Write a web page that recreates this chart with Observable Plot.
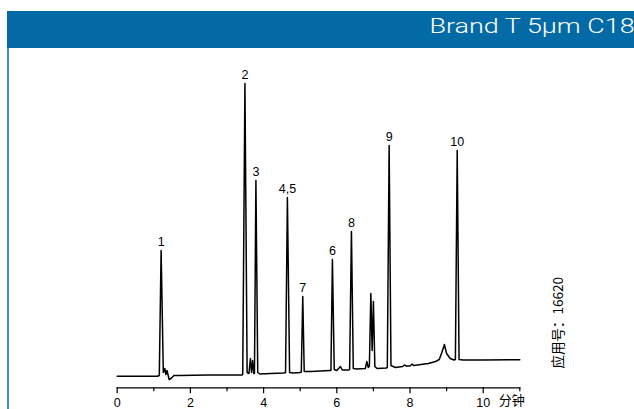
<!DOCTYPE html>
<html>
<head>
<meta charset="utf-8">
<script src="https://cdn.jsdelivr.net/npm/d3@7"></script>
<script src="https://cdn.jsdelivr.net/npm/@observablehq/plot@0.6"></script>
<style>
  html, body { margin: 0; padding: 0; background: #fff; width: 634px; height: 409px; overflow: hidden; }
  #wrap { position: relative; width: 634px; height: 409px; }
  #header { position: absolute; left: 7px; top: 11px; width: 627px; height: 37px; background: #046aa5; overflow: hidden; }
  #header span { position: absolute; right: -1px; top: 4px; color: #fff; font-family: Roboto, "Liberation Sans", Arial, sans-serif; font-weight: 300; font-size: 19.5px; white-space: nowrap; transform: scaleX(1.38); transform-origin: right center; }
  #leftline { position: absolute; left: 7px; top: 48px; width: 2px; height: 361px; background: #3d8fc8; }
  #chart { position: absolute; left: 0; top: 0; }
</style>
</head>
<body>
<div id="wrap">
  <div id="header"><span id="title"></span></div>
  <div id="leftline"></div>
  <div id="chart"></div>
</div>
<script>
const titleText = "Brand T 5µm C18";
const xLabel = "分钟";
const appNote = "应用号：16620";

// chromatogram trace: retention time (min) and detector response (arbitrary units)
const times = [
  0, 1.10, 1.15, 1.20, 1.26, 1.30, 1.33, 1.36, 1.42, 1.47, 1.55, 1.70, 2.50, 3.00, 3.40,
  3.43, 3.49, 3.55, 3.60, 3.64, 3.67, 3.70, 3.73,
  3.75, 3.79, 3.84, 3.90, 4.20, 4.55,
  4.60, 4.65, 4.71, 4.80, 5.00,
  5.03, 5.07, 5.11, 5.30, 5.80,
  5.84, 5.88, 5.93, 6.00, 6.10, 6.15, 6.33,
  6.35, 6.40, 6.45, 6.55, 6.78, 6.82, 6.86,
  6.89, 6.93, 6.965, 7.00, 7.04, 7.10, 7.35,
  7.38, 7.43, 7.48, 7.60, 7.80, 7.85, 7.90, 8.00, 8.06, 8.10, 8.30, 8.50, 8.70, 8.80, 8.87, 8.94, 9.00, 9.10, 9.20,
  9.24, 9.29, 9.34, 9.45, 10.0, 11.0
];
const response = [
  4.3, 4.3, 5, 130, 8, 12, 6, 10, 1, 2, 5, 5, 5.5, 5.5, 5.5,
  6, 297, 8, 7, 22, 8, 20, 7,
  7, 200, 8, 6.5, 7, 7.5,
  8, 183, 8, 7.5, 8,
  8.5, 84, 9, 9, 10,
  10, 121, 11, 10, 14, 10.5, 10.5,
  11, 149, 12, 11.5, 12, 19, 13,
  14, 87, 30, 79, 14, 12, 12.5,
  13, 235, 15, 13, 14, 15.5, 14.5, 14.5, 16.5, 15, 16, 17, 19, 21, 28, 36, 27, 22, 20.5,
  21, 230, 21, 20.5, 20.6, 20.7
];

// peak labels
const peakNames = ["1", "2", "3", "4,5", "7", "6", "8", "9", "10"];
const peakTimes = [1.20, 3.49, 3.79, 4.65, 5.07, 5.88, 6.40, 7.43, 9.29];
const peakHeights = [130, 297, 200, 183, 84, 121, 149, 235, 230];

const majorTicks = [0, 2, 4, 6, 8, 10];
const minorTicks = [1, 3, 5, 7, 9, 11];

const trace = times.map((t, i) => ({t, v: response[i]}));
const peaks = peakNames.map((n, i) => ({name: n, t: peakTimes[i], v: peakHeights[i]}));

document.getElementById("title").textContent = titleText;

const chart = Plot.plot({
  width: 634,
  height: 409,
  marginLeft: 116.7,
  marginRight: 114.7,
  marginTop: 80,
  marginBottom: 21.7,
  style: {fontFamily: "'Liberation Sans', Arial, sans-serif", background: "transparent", color: "#000"},
  x: {domain: [0, 11]},
  y: {domain: [-7.3, 300], axis: null},
  marks: [
    Plot.axisX(minorTicks, {tickSize: 4, tickFormat: () => "", label: null, strokeWidth: 1.2}),
    Plot.axisX(majorTicks, {tickSize: 6, tickPadding: 4, fontSize: 12.5, label: null, strokeWidth: 1.2}),
    Plot.frame({anchor: "bottom", strokeWidth: 1.3}),
    Plot.line(trace, {x: "t", y: "v", stroke: "#000", strokeWidth: 1.5}),
    Plot.text(peaks, {x: "t", y: "v", text: "name", dy: -4.5, lineAnchor: "bottom", fontSize: 12.5, fill: "#000"}),
    Plot.text([xLabel], {frameAnchor: "bottom-right", textAnchor: "start", lineAnchor: "middle", dx: -21, dy: 13.5, fontSize: 13, fontFamily: "'Noto Sans CJK SC', sans-serif", fill: "#000"}),
    Plot.text([appNote], {frameAnchor: "bottom-right", rotate: -90, textAnchor: "start", lineAnchor: "middle", dx: 38.7, dy: -19.3, fontSize: 13.5, fontFamily: "'Noto Sans CJK SC', sans-serif", fill: "#000"})
  ]
});
document.getElementById("chart").appendChild(chart);
</script>
</body>
</html>
